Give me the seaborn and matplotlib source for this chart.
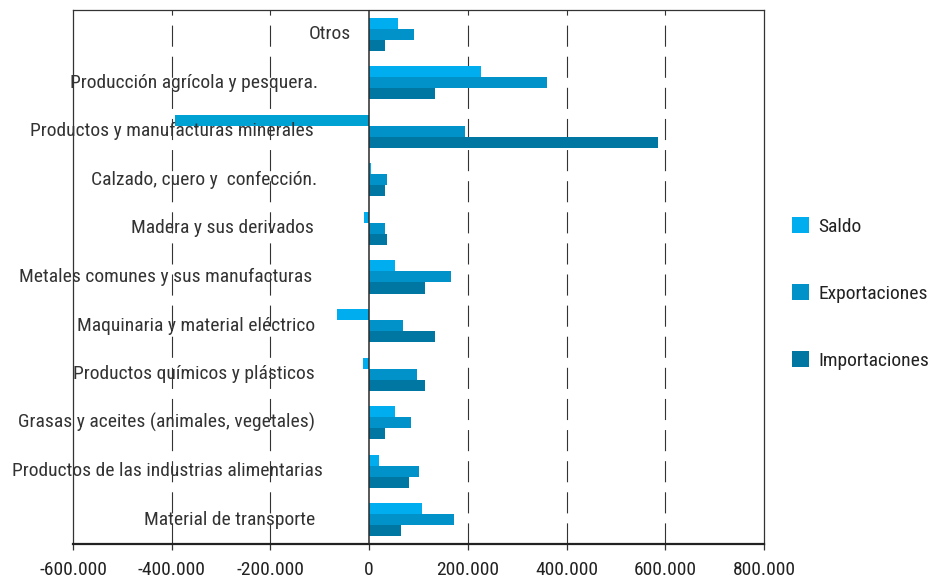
import numpy as np
import pandas as pd
import matplotlib
matplotlib.use('Agg')
import matplotlib.pyplot as plt
import seaborn as sns
from matplotlib.ticker import FuncFormatter, MultipleLocator

# datos
categorias = ['Otros',
              'Producción agrícola y pesquera.',
              'Productos y manufacturas minerales',
              'Calzado, cuero y  confección.',
              'Madera y sus derivados',
              'Metales comunes y sus manufacturas',
              'Maquinaria y material eléctrico',
              'Productos químicos y plásticos',
              'Grasas y aceites (animales, vegetales)',
              'Productos de las industrias alimentarias',
              'Material de transporte']
saldo = [58000, 226000, -394000, 3000, -10000, 52000, -66000, -13000, 52000, 20000, 107000]
exportaciones = [90000, 360000, 194000, 36000, 32000, 166000, 69000, 97000, 85000, 101000, 172000]
importaciones = [32000, 133000, 586000, 32000, 36000, 113000, 133000, 113000, 32000, 81000, 65000]
series = ['Saldo', 'Exportaciones', 'Importaciones']

colores = ['#00AEEF', '#0092C8', '#0076A3']

df = pd.DataFrame({'categoria': categorias * 3,
                   'valor': saldo + exportaciones + importaciones,
                   'serie': np.repeat(series, len(categorias))})

sns.set_style('white')
plt.rcParams['font.family'] = ['Roboto Condensed', 'IBM Plex Sans Condensed', 'DejaVu Sans']

fig = plt.figure(figsize=(9.32, 5.85), dpi=100)
ax = fig.add_axes([0.0783, 0.0701, 0.7414, 0.9128])

sns.barplot(data=df, y='categoria', x='valor', hue='serie', order=categorias,
            hue_order=series, palette=colores, orient='h', width=0.68,
            saturation=1, linewidth=0, edgecolor='none', ax=ax, zorder=2)

# la barra negativa de minerales va en un tono algo más oscuro
ax.containers[0][2].set_facecolor('#00A2D4')

ax.set_xlim(-600000, 800000)
ax.xaxis.set_major_locator(MultipleLocator(200000))
ax.xaxis.set_major_formatter(FuncFormatter(lambda v, p: f"{int(v):,}".replace(",", ".")))

# rejilla discontinua
for v in [-400000, -200000, 200000, 400000, 600000]:
    ax.axvline(v, color='#333333', lw=0.8, dashes=(19, 9), zorder=1)
ax.axvline(0, color='#2a2a2a', lw=1.1, zorder=3)

for s in ['top', 'left', 'right']:
    ax.spines[s].set_color('#333333')
    ax.spines[s].set_linewidth(0.9)
ax.spines['bottom'].set_color('#222222')
ax.spines['bottom'].set_linewidth(1.6)

ax.tick_params(axis='x', direction='out', length=4, width=0.9, color='#333333',
               labelsize=14, pad=8, labelcolor='#222222', bottom=True)
ax.tick_params(axis='y', left=False, labelleft=False)
ax.set_xlabel('')
ax.set_ylabel('')

# etiquetas de categoría junto al eje cero
desplaz = [18, 51, 55, 52, 55, 57, 54, 54, 54, 46, 54]
for i, cat in enumerate(categorias):
    ax.annotate(cat, xy=(0, i), xycoords='data', xytext=(-desplaz[i] * 0.72, 0),
                textcoords='offset points', ha='right', va='center',
                fontsize=14, color='#333333', zorder=4)

ax.legend(loc='upper left', bbox_to_anchor=(1.015, 0.645), frameon=False,
          fontsize=14, labelspacing=2.5, handlelength=0.9, handleheight=0.85,
          handletextpad=0.45, labelcolor='#222222')

fig.savefig('out.png', dpi=100)
